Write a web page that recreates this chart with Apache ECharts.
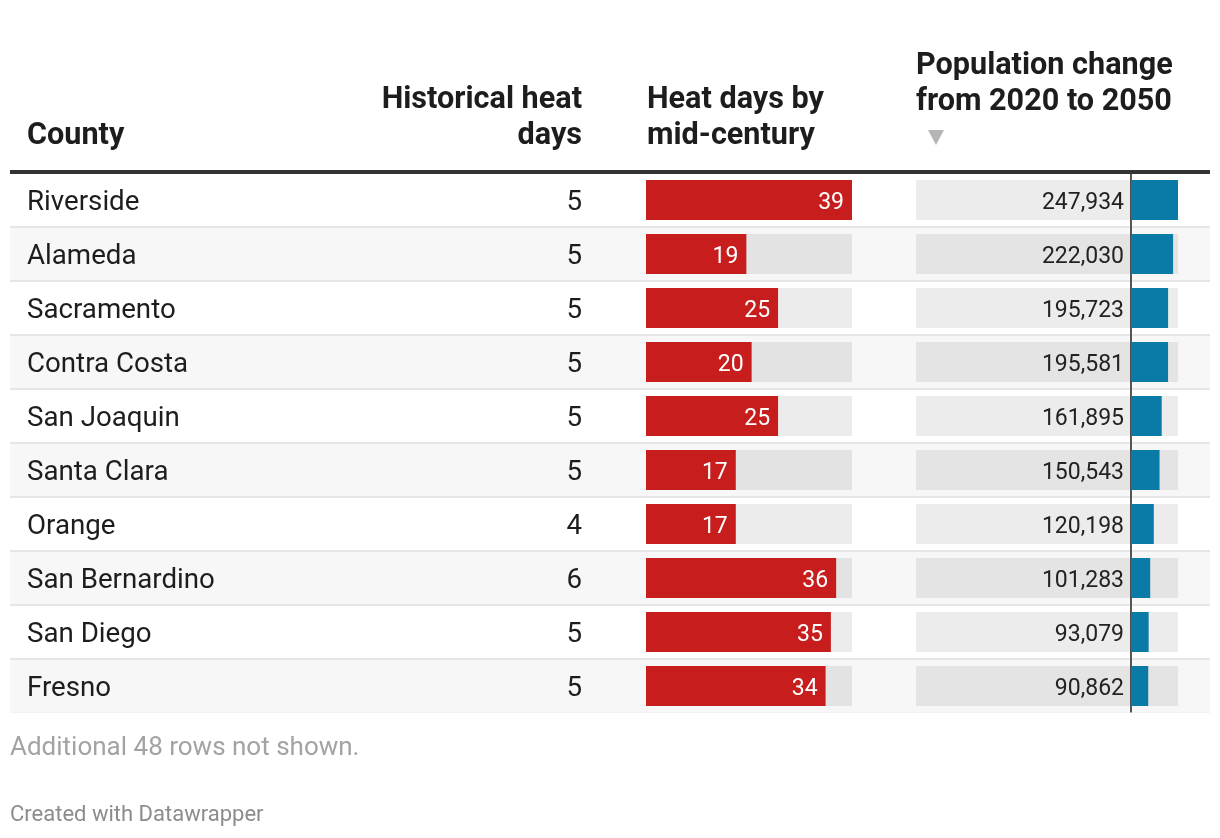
<!DOCTYPE html>
<html>
<head>
<meta charset="utf-8">
<script src="https://cdn.jsdelivr.net/npm/echarts@6/dist/echarts.min.js"></script>
<style>
html,body{margin:0;padding:0;background:#fff;}
#chart{width:1220px;height:838px;}
</style>
</head>
<body>
<div id="chart"></div>
<script>
// ---- data ----
const counties = ["Riverside","Alameda","Sacramento","Contra Costa","San Joaquin","Santa Clara","Orange","San Bernardino","San Diego","Fresno"];
const historicalHeatDays = [5,5,5,5,5,5,4,6,5,5];
const midCenturyHeatDays = [39,19,25,20,25,17,17,36,35,34];
const populationChange = [247934,222030,195723,195581,161895,150543,120198,101283,93079,90862];
const headers = ["County","Historical heat\ndays","Heat days by\nmid-century","Population change\nfrom 2020 to 2050"];
const footnote = "Additional 48 rows not shown.";
const credit = "Created with Datawrapper";

// ---- layout ----
const FONT = "Roboto";
const TOP = 173, H = 540, TXT_SHIFT = 3;
const heatMax = Math.max(...midCenturyHeatDays);
const popMax = Math.max(...populationChange);
const popLeft = 916, popZero = 1131, popRight = 1178;
const HEAD_FONT = 'bold 30.6px Roboto';
const BODY_SIZE = 27.7;

const chart = echarts.init(document.getElementById('chart'), null, {renderer:'canvas'});

const catAxisBase = {
  type:'category', data:counties, inverse:true,
  axisLine:{show:false}, axisTick:{show:false}
};

chart.setOption({
  animation:false,
  backgroundColor:'#ffffff',
  textStyle:{fontFamily:FONT},
  grid:[
    {left:10, top:TOP, width:1200, height:H},
    {left:646, top:TOP, width:852-646, height:H},
    {left:popLeft, top:TOP, width:popRight-popLeft, height:H},
    {left:10, top:TOP+TXT_SHIFT, width:1200, height:H},
    {left:646, top:TOP+TXT_SHIFT, width:852-646, height:H}
  ],
  xAxis:[
    {gridIndex:0, type:'value', show:false, min:0, max:1},
    {gridIndex:1, type:'value', show:false, min:0, max:heatMax},
    {gridIndex:2, type:'value', show:false, max:popMax,
     min: v => -v.max*(popZero-popLeft)/(popRight-popZero)},
    {gridIndex:3, type:'value', show:false, min:0, max:1},
    {gridIndex:4, type:'value', show:false, min:0, max:1}
  ],
  yAxis:[
    Object.assign({}, catAxisBase, {
      gridIndex:0,
      splitArea:{show:true, areaStyle:{color:['#ffffff','#f7f7f7']}},
      splitLine:{show:true, lineStyle:{color:'#e6e6e6', width:2}},
      axisLabel:{show:false}
    }),
    Object.assign({}, catAxisBase, {gridIndex:1, axisLabel:{show:false}}),
    Object.assign({}, catAxisBase, {
      gridIndex:2,
      axisLine:{show:true, onZero:true, lineStyle:{color:'#555555', width:2}},
      axisLabel:{show:false}
    }),
    Object.assign({}, catAxisBase, {
      gridIndex:3,
      axisLabel:{show:true, align:'left', margin:-17, fontFamily:FONT, fontSize:BODY_SIZE, color:'#1d1d1d'}
    }),
    Object.assign({}, catAxisBase, {
      gridIndex:4,
      axisLabel:{show:true, margin:646-582, fontFamily:FONT, fontSize:BODY_SIZE, color:'#1d1d1d',
        formatter:(v,i)=>String(historicalHeatDays[i])}
    })
  ],
  series:[
    {
      type:'bar', xAxisIndex:1, yAxisIndex:1, data:midCenturyHeatDays,
      barWidth:40, itemStyle:{color:'#c71e1d'},
      showBackground:true, backgroundStyle:{color:'rgba(0,0,0,0.08)'},
      label:{show:true, position:'insideRight', distance:8, offset:[0,TXT_SHIFT], color:'#ffffff', fontFamily:FONT, fontSize:23}
    },
    {
      type:'bar', xAxisIndex:2, yAxisIndex:2, data:populationChange,
      barWidth:40, itemStyle:{color:'#0a7ba7'},
      showBackground:true, backgroundStyle:{color:'rgba(0,0,0,0.075)'},
      label:{show:true, position:'left', distance:7, offset:[0,TXT_SHIFT], color:'#222222', fontFamily:FONT, fontSize:23,
        formatter:p=>p.value.toLocaleString('en-US')},
      z:3
    }
  ],
  graphic:[
    {type:'rect', z:100, shape:{x:10, y:170, width:1200, height:4}, style:{fill:'#333333'}},
    {type:'rect', z:100, shape:{x:0, y:712.5, width:1220, height:4}, style:{fill:'#ffffff'}},
    {type:'text', z:100, style:{text:headers[0], x:27, y:136, textAlign:'left', textVerticalAlign:'middle',
      font:HEAD_FONT, fill:'#1d1d1d'}},
    {type:'text', z:100, style:{text:headers[1], x:582, y:118.5, textAlign:'right', textVerticalAlign:'middle',
      font:HEAD_FONT, lineHeight:35.5, fill:'#1d1d1d'}},
    {type:'text', z:100, style:{text:headers[2], x:647, y:118.5, textAlign:'left', textVerticalAlign:'middle',
      font:HEAD_FONT, lineHeight:35.5, fill:'#1d1d1d'}},
    {type:'text', z:100, style:{text:headers[3], x:916, y:84, textAlign:'left', textVerticalAlign:'middle',
      font:HEAD_FONT, lineHeight:36, fill:'#1d1d1d'}},
    {type:'polygon', z:100, shape:{points:[[928,130],[944,130],[936,145]]}, style:{fill:'#b5b5b5'}},
    {type:'text', z:100, style:{text:footnote, x:10, y:748, textAlign:'left', textVerticalAlign:'middle',
      font:'26px Roboto', fill:'#a3a3a3'}},
    {type:'text', z:100, style:{text:credit, x:10, y:815, textAlign:'left', textVerticalAlign:'middle',
      font:'22px Roboto', fill:'#8c8c8c'}}
  ]
});
</script>
</body>
</html>
